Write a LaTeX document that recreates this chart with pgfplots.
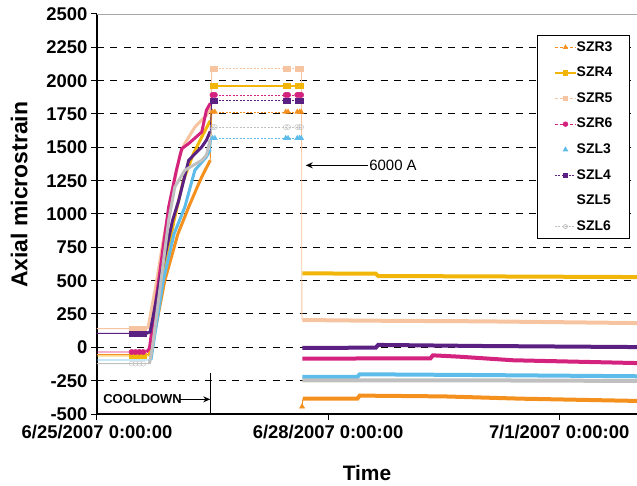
\documentclass[border=0pt]{standalone}
\usepackage{fontspec}
\setmainfont{Liberation Sans}
\usepackage{pgfplots}
\pgfplotsset{compat=1.18}
\usetikzlibrary{arrows.meta}
\definecolor{cR3}{HTML}{F4901E}
\definecolor{cR4}{HTML}{F2B50A}
\definecolor{cR5}{HTML}{F6C4A0}
\definecolor{cR6}{HTML}{D4237E}
\definecolor{cL3}{HTML}{5EBCEA}
\definecolor{cL4}{HTML}{5B2182}
\definecolor{cL6}{HTML}{C0C0C0}
\begin{document}
\begin{tikzpicture}[x=1bp,y=1bp]
\begin{axis}[
  at={(0bp,0bp)}, anchor=south west,
  scale only axis, width=540bp, height=400bp,
  xmin=0, xmax=7.01, ymin=-500, ymax=2500,
  axis x line*=bottom, axis y line*=left,
  axis line style={line width=1.1bp},
  xtick={0,3,6},
  xticklabels={6/25/2007 0:00:00,6/28/2007 0:00:00,7/1/2007 0:00:00},
  ytick={-500,-250,...,2500},
  yticklabels={-500,-250,0,250,500,750,1000,1250,1500,1750,2000,2250,2500},
  tick align=outside, major tick length=6bp,
  tick style={black, line width=1bp},
  ticklabel style={font=\bfseries\fontsize{18.5}{18.5}\selectfont},
  xticklabel style={yshift=-2bp},
  ymajorgrids,
  major grid style={black, line width=1bp, dash pattern=on 7bp off 6.5bp},
  ylabel={Axial microstrain},
  xlabel={Time},
  every axis y label/.style={at={(axis description cs:-0.144,0.548)}, rotate=90, anchor=center, font=\bfseries\fontsize{23}{23}\selectfont},
  every axis x label/.style={at={(axis description cs:0.5,-0.1475)}, anchor=center, font=\bfseries\fontsize{21}{21}\selectfont},
  legend cell align=left,
  legend image code/.code={\draw[mark repeat=2,mark phase=2,#1] plot coordinates {(0bp,0bp) (10.5bp,0bp) (21bp,0bp)};},
  legend style={at={(0.987,0.9475)}, anchor=north east, draw=black, line width=1.2bp,
    font=\bfseries\fontsize{14}{14}\selectfont, inner xsep=17bp, inner ysep=5.5bp,
    row sep=13.1bp, nodes={inner sep=0bp, text height=10bp, text depth=2.5bp}},
]
% top border
\draw[white, line width=2.5bp] (axis cs:0,2500) -- (axis cs:7.01,2500);
\draw[gray!70, line width=0.7bp] (axis cs:0,2500) -- (axis cs:7.01,2500);

% peach drop line (only visible one)
\addplot[cR5, line width=0.8bp, forget plot] coordinates {(2.655,2090) (2.66,205)};

% ---------- SZR3 ----------
\addplot[cR3, line width=0.9bp, forget plot] coordinates {(0,-55) (0.68,-55) (0.78,200) (0.88,500) (1.05,850) (1.19,1052) (1.30,1200) (1.36,1278) (1.47,1403) (1.49,1765)};
\addplot[cR3, line width=0.8bp, dash pattern=on 2bp off 1.5bp, forget plot] coordinates {(1.49,1765) (2.655,1765)};
\addplot[cR3, line width=3bp, forget plot] coordinates {(0.68,-55) (0.78,200) (0.88,500) (1.05,850) (1.19,1052) (1.30,1200) (1.36,1278) (1.47,1403)};
\addplot[cR3, line width=0.9bp, forget plot] coordinates {(2.662,-445) (2.672,-385)};
\addplot[cR3, line width=4bp, forget plot] coordinates {(2.672,-385) (3.38,-385) (3.41,-362) (4.5,-368) (5.5,-385) (7.01,-402)};
\addplot[cR3, only marks, mark=triangle*, mark size=3bp, forget plot] coordinates {(0.45,-55) (0.5,-55) (0.55,-55) (0.6,-55) (1.50,1765) (1.53,1765) (2.45,1765) (2.48,1765) (2.60,1765) (2.63,1765) (2.65,1765) (2.662,-445)};

% ---------- SZR4 ----------
\addplot[cR4, line width=0.9bp, forget plot] coordinates {(0,-65) (0.68,-65) (0.78,250) (0.88,600) (1.0,950) (1.12,1250) (1.25,1450) (1.38,1600) (1.47,1700) (1.49,1960)};
\addplot[cR4, line width=1.3bp, forget plot] coordinates {(1.49,1960) (2.655,1960)};
\addplot[cR4, line width=3bp, forget plot] coordinates {(0.68,-65) (0.78,250) (0.88,600) (1.0,950) (1.12,1250) (1.25,1450) (1.38,1600) (1.47,1700)};
\addplot[cR4, line width=4bp, forget plot] coordinates {(2.665,555) (3.62,552) (3.65,535) (5,532) (7.01,527)};
\addplot[cR4, only marks, mark=square*, mark size=2.5bp, forget plot] coordinates {(0.45,-65) (0.5,-65) (0.55,-65) (0.6,-65) (1.50,1960) (1.53,1960) (2.45,1960) (2.48,1960) (2.60,1960) (2.63,1960) (2.65,1960)};

% ---------- SZR5 ----------
\addplot[cR5, line width=0.9bp, forget plot] coordinates {(0,140) (0.66,140) (0.76,450) (0.86,800) (0.97,1150) (1.08,1450) (1.14,1528) (1.27,1652) (1.42,1740) (1.48,1800) (1.49,2090)};
\addplot[cR5, line width=0.8bp, dash pattern=on 2bp off 1.5bp, forget plot] coordinates {(1.49,2090) (2.655,2090)};
\addplot[cR5, line width=3bp, forget plot] coordinates {(0.66,140) (0.76,450) (0.86,800) (0.97,1150) (1.08,1450) (1.14,1528) (1.27,1652) (1.42,1740) (1.48,1800)};
\addplot[cR5, line width=4bp, forget plot] coordinates {(2.665,205) (3.5,200) (5,195) (7.01,182)};
\addplot[cR5, only marks, mark=square*, mark size=2.5bp, forget plot] coordinates {(0.45,140) (0.5,140) (0.55,140) (0.6,140) (1.50,2090) (1.53,2090) (2.45,2090) (2.48,2090) (2.60,2090) (2.63,2090) (2.65,2090)};

% ---------- SZR6 ----------
\addplot[cR6, line width=0.9bp, forget plot] coordinates {(0,-35) (0.64,-35) (0.68,-10) (0.80,500) (0.93,1052) (1.03,1327) (1.10,1490) (1.19,1528) (1.36,1615) (1.42,1778) (1.47,1830) (1.49,1893)};
\addplot[cR6, line width=0.8bp, dash pattern=on 2bp off 1.5bp, forget plot] coordinates {(1.49,1893) (2.655,1893)};
\addplot[cR6, line width=3bp, forget plot] coordinates {(0.64,-35) (0.68,-10) (0.80,500) (0.93,1052) (1.03,1327) (1.10,1490) (1.19,1528) (1.36,1615) (1.42,1778) (1.47,1830)};
\addplot[cR6, line width=4bp, forget plot] coordinates {(2.665,-85) (4.33,-82) (4.36,-60) (4.7,-70) (5.4,-97) (7.01,-118)};
\addplot[cR6, only marks, mark=*, mark size=2.7bp, forget plot] coordinates {(0.45,-35) (0.5,-35) (0.55,-35) (0.6,-35) (1.50,1893) (1.53,1893) (2.45,1893) (2.48,1893) (2.60,1893) (2.63,1893) (2.65,1893)};

% ---------- SZL3 ----------
\addplot[cL3, line width=0.9bp, forget plot] coordinates {(0,-95) (0.70,-95) (0.86,500) (1.00,850) (1.14,1052) (1.27,1328) (1.42,1428) (1.47,1480) (1.49,1568)};
\addplot[cL3, line width=0.8bp, dash pattern=on 2bp off 1.5bp, forget plot] coordinates {(1.49,1568) (2.655,1568)};
\addplot[cL3, line width=3bp, forget plot] coordinates {(0.70,-95) (0.86,500) (1.00,850) (1.14,1052) (1.27,1328) (1.42,1428) (1.47,1480)};
\addplot[cL3, line width=4bp, forget plot] coordinates {(2.665,-222) (3.38,-222) (3.41,-202) (5,-208) (7.01,-217)};
\addplot[cL3, only marks, mark=triangle*, mark size=3bp, forget plot] coordinates {(1.50,1568) (1.53,1568) (2.45,1568) (2.48,1568) (2.60,1568) (2.63,1568) (2.65,1568)};

% ---------- SZL4 ----------
\addplot[cL4, line width=0.9bp, forget plot] coordinates {(0,105) (0.64,105) (0.69,115) (0.85,600) (0.98,950) (1.06,1100) (1.19,1403) (1.36,1503) (1.42,1553) (1.47,1620) (1.49,1850)};
\addplot[cL4, line width=0.8bp, dash pattern=on 2bp off 1.5bp, forget plot] coordinates {(1.49,1850) (2.655,1850)};
\addplot[cL4, line width=3bp, forget plot] coordinates {(0.64,105) (0.69,115) (0.85,600) (0.98,950) (1.06,1100) (1.19,1403) (1.36,1503) (1.42,1553) (1.47,1620)};
\addplot[cL4, line width=4bp, forget plot] coordinates {(2.665,-5) (3.62,-2) (3.65,18) (5,10) (7.01,2)};
\addplot[cL4, only marks, mark=square*, mark size=2.5bp, forget plot] coordinates {(0.45,105) (0.5,105) (0.55,105) (0.6,105) (1.50,1850) (1.53,1850) (2.45,1850) (2.48,1850) (2.60,1850) (2.63,1850) (2.65,1850)};

% ---------- SZL6 ----------
\addplot[cL6, line width=0.9bp, forget plot] coordinates {(0,-122) (0.68,-122) (0.72,0) (0.82,450) (0.93,950) (1.01,1202) (1.14,1328) (1.36,1403) (1.42,1440) (1.47,1560) (1.49,1652)};
\addplot[cL6, line width=0.8bp, dash pattern=on 2bp off 1.5bp, forget plot] coordinates {(1.49,1652) (2.655,1652)};
\addplot[cL6, line width=3bp, forget plot] coordinates {(0.68,-122) (0.72,0) (0.82,450) (0.93,950) (1.01,1202) (1.14,1328) (1.36,1403) (1.42,1440) (1.47,1560)};
\addplot[cL6, line width=4bp, forget plot] coordinates {(2.665,-247) (5,-248) (7.01,-252)};
\addplot[cL6, only marks, mark=o, mark size=2.5bp, forget plot] coordinates {(0.45,-122) (0.5,-122) (0.55,-122) (0.6,-122) (1.50,1652) (1.53,1652) (2.45,1652) (2.48,1652) (2.60,1652) (2.63,1652) (2.65,1652)};

% ---------- legend ----------
\addlegendimage{cR3, line width=0.8bp, dash pattern=on 3bp off 2bp, mark=triangle*, mark size=2.2bp, mark options={solid}}
\addlegendentry{SZR3}
\addlegendimage{cR4, line width=1.5bp, mark=square*, mark size=2bp, mark options={solid}}
\addlegendentry{SZR4}
\addlegendimage{cR5, line width=0.8bp, dash pattern=on 3bp off 2bp, mark=square*, mark size=2bp, mark options={solid}}
\addlegendentry{SZR5}
\addlegendimage{cR6, line width=1bp, dash pattern=on 3bp off 2bp, mark=*, mark size=2.2bp, mark options={solid}}
\addlegendentry{SZR6}
\addlegendimage{cL3, draw opacity=0, mark=triangle*, mark size=2.2bp, mark options={draw opacity=1}}
\addlegendentry{SZL3}
\addlegendimage{cL4, line width=0.8bp, dash pattern=on 2bp off 1.5bp, mark=square*, mark size=2.2bp, mark options={solid}}
\addlegendentry{SZL4}
\addlegendimage{white, draw opacity=0}
\addlegendentry{SZL5}
\addlegendimage{cL6, line width=0.8bp, dash pattern=on 2bp off 1.5bp, mark=o, mark size=2bp, mark options={solid}}
\addlegendentry{SZL6}

% ---------- annotations ----------
\draw[-{Stealth[length=7bp,width=6bp]}, line width=1.5bp] (axis cs:3.52,1365) -- (axis cs:2.71,1365);
\node[anchor=west, font=\fontsize{15}{15}\selectfont, inner sep=1bp] at (axis cs:3.52,1365) {6000 A};
\node[anchor=west, font=\bfseries\fontsize{13}{13}\selectfont, inner sep=0bp] at (axis cs:0.08,-390) {COOLDOWN};
\draw[-{Stealth[length=7bp,width=6bp]}, line width=1.3bp] (axis cs:1.08,-390) -- (axis cs:1.47,-390);
\draw[line width=1.2bp] (axis cs:1.47,-190) -- (axis cs:1.47,-500);
\end{axis}
\pgfresetboundingbox
\path (-97bp,-72bp) rectangle (540bp,414bp);
\end{tikzpicture}
\end{document}
